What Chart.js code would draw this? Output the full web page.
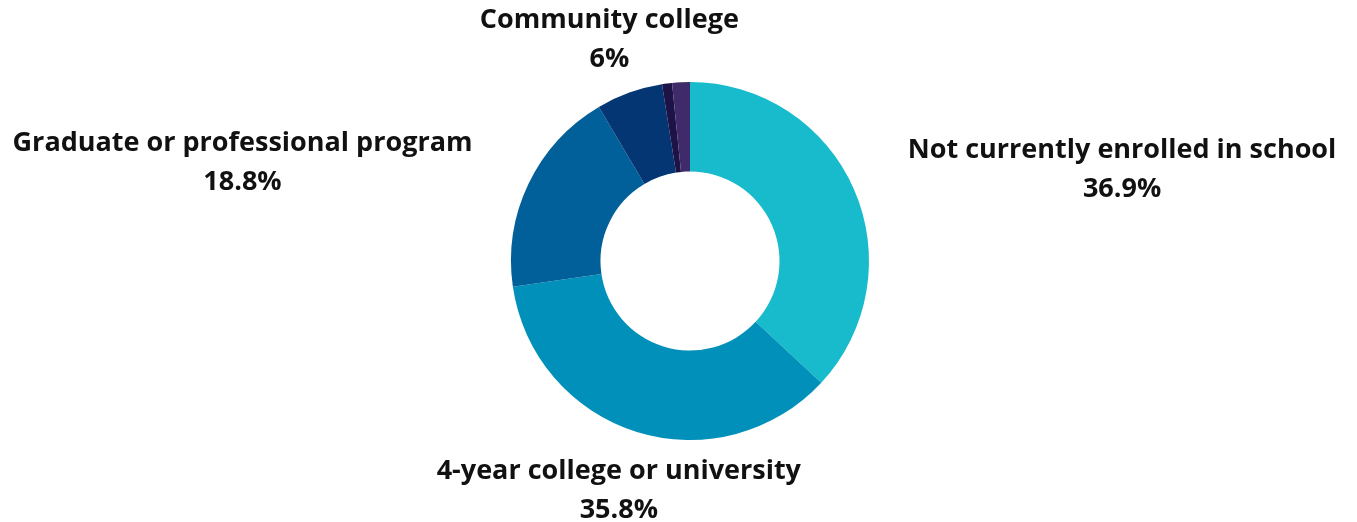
<!DOCTYPE html>
<html>
<head>
<meta charset="utf-8">
<script src="https://cdn.jsdelivr.net/npm/chart.js@4/dist/chart.umd.min.js"></script>
<style>
    html, body { margin: 0; padding: 0; background: #ffffff; }
    #wrap { width: 1357px; height: 522px; }
</style>
</head>
<body>
<div id="wrap"><canvas id="myChart" width="1357" height="522"></canvas></div>
<script>
// data
const categories = [
    'Not currently enrolled in school',
    '4-year college or university',
    'Graduate or professional program',
    'Community college',
    'Other',
    'Trade or vocational school'
];
const shares = [36.9, 35.8, 18.8, 6, 0.9, 1.6];
const valueLabels = ['36.9%', '35.8%', '18.8%', '6%', '', ''];
const showLabel = [true, true, true, true, false, false];

const sliceColors = ['#17bbcb', '#0090ba', '#01609a', '#033672', '#1d1346', '#3f2b6a'];

// where each label sits relative to the outer edge of its slice
const labelOffsets = [[268, -39], [-18, 39], [-286, -40], [-20, -72], [0, 0], [0, 0]];

const outsideLabels = {
    id: 'outsideLabels',
    afterDraw(chart) {
        const ctx = chart.ctx;
        const meta = chart.getDatasetMeta(0);
        ctx.save();
        ctx.font = 'bold 27px "Open Sans"';
        ctx.fillStyle = '#111111';
        ctx.textAlign = 'center';
        ctx.textBaseline = 'middle';
        meta.data.forEach((arc, i) => {
            if (!showLabel[i]) return;
            const p = arc.getProps(['x', 'y', 'startAngle', 'endAngle', 'outerRadius'], true);
            const mid = (p.startAngle + p.endAngle) / 2;
            const ax = p.x + Math.cos(mid) * p.outerRadius;
            const ay = p.y + Math.sin(mid) * p.outerRadius;
            const x = ax + labelOffsets[i][0];
            const y = ay + labelOffsets[i][1];
            ctx.fillText(categories[i], x, y);
            ctx.fillText(valueLabels[i], x, y + 39);
        });
        ctx.restore();
    }
};

function createChart() {
    const ctx = document.getElementById('myChart').getContext('2d');
    new Chart(ctx, {
        type: 'doughnut',
        data: {
            labels: categories,
            datasets: [{
                data: shares,
                backgroundColor: sliceColors,
                borderWidth: 0
            }]
        },
        options: {
            responsive: false,
            animation: false,
            cutout: '50%',
            layout: {
                padding: { left: 511, right: 488, top: 82, bottom: 82 }
            },
            plugins: {
                legend: { display: false },
                tooltip: { enabled: false }
            }
        },
        plugins: [outsideLabels]
    });
}

document.addEventListener('DOMContentLoaded', createChart);
</script>
</body>
</html>
